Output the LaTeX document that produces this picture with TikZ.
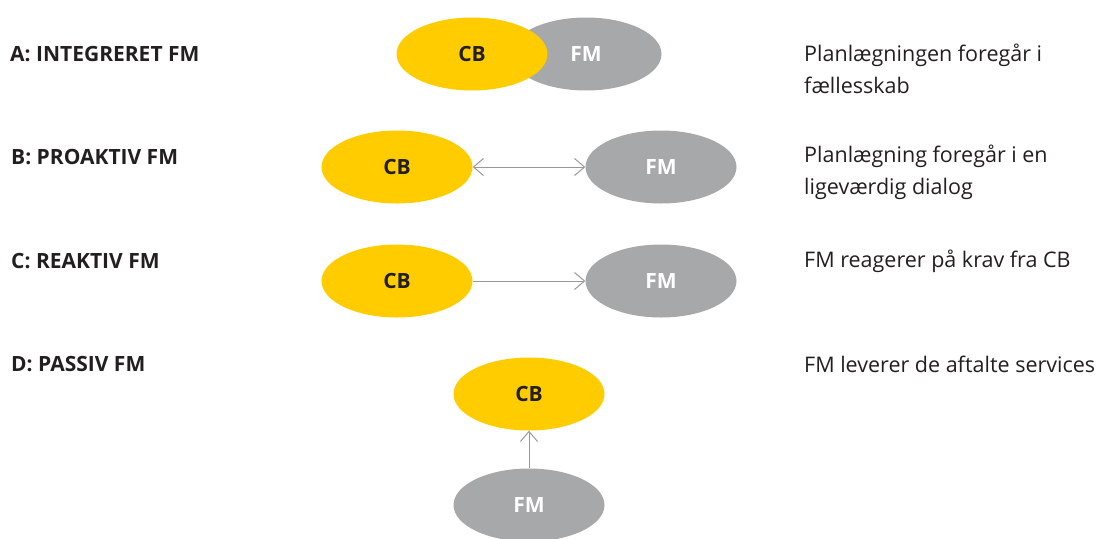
\documentclass[tikz,border=0pt]{standalone}
\usepackage{fontspec}
\setmainfont{Open Sans}
\usetikzlibrary{arrows.meta,shapes.geometric}
\definecolor{cbyellow}{HTML}{FFCC00}
\definecolor{fmgray}{HTML}{A7A8AA}
\definecolor{arrowgray}{HTML}{999999}
\definecolor{txt}{HTML}{231F20}
\begin{document}
\begin{tikzpicture}[x=1pt,y=-1pt,
  oval/.style={ellipse,minimum width=151pt,minimum height=73pt,inner sep=0pt,
    font=\fontsize{21}{24}\selectfont\bfseries},
  cb/.style={oval,fill=cbyellow,text=txt},
  fm/.style={oval,fill=fmgray,text=white},
  level/.style={anchor=base west,inner sep=0pt,text=txt,font=\fontsize{21}{24}\selectfont\bfseries},
  note/.style={anchor=base west,inner sep=0pt,text=txt,font=\fontsize{21.5}{24}\selectfont},
  tip/.tip={Straight Barb[length=10pt,width=17pt]},
  link/.style={draw=arrowgray,line width=1pt,-tip},
  dlink/.style={draw=arrowgray,line width=1pt,tip-tip}
]
\useasboundingbox (0,0) rectangle (1102,538);

% A: integrated
\node[fm] (fmA) at (586,54) {};
\node[cb] (cbA) at (472,54) {CB};
\node[oval,text=white] (fmAlbl) at (586,54) {FM};

% B: proactive
\node[cb] (cbB) at (397,167) {CB};
\node[fm] (fmB) at (661,167) {FM};
\draw[dlink] (cbB) -- (fmB);

% C: reactive
\node[cb] (cbC) at (397,281) {CB};
\node[fm] (fmC) at (661,281) {FM};
\draw[link] (cbC) -- (fmC);

% D: passive
\node[cb] (cbD) at (529,394) {CB};
\node[fm] (fmD) at (529,505) {FM};
\draw[link] (fmD) -- (cbD);

% level labels
\node[level] (lA) at (10,61) {A: INTEGRERET FM};
\node[level] (lB) at (11,164) {B: PROAKTIV FM};
\node[level] (lC) at (11,268) {C: REAKTIV FM};
\node[level] (lD) at (11,371) {D: PASSIV FM};

% descriptions
\node[note] (dA1) at (804,61) {Planlægningen foregår i};
\node[note] (dA2) at (804,93) {fællesskab};
\node[note] (dB1) at (804,162) {Planlægning foregår i en};
\node[note] (dB2) at (804,194) {ligeværdig dialog};
\node[note] (dC) at (804,267) {FM reagerer på krav fra CB};
\node[note] (dD) at (804,372) {FM leverer de aftalte services};
\end{tikzpicture}
\end{document}
